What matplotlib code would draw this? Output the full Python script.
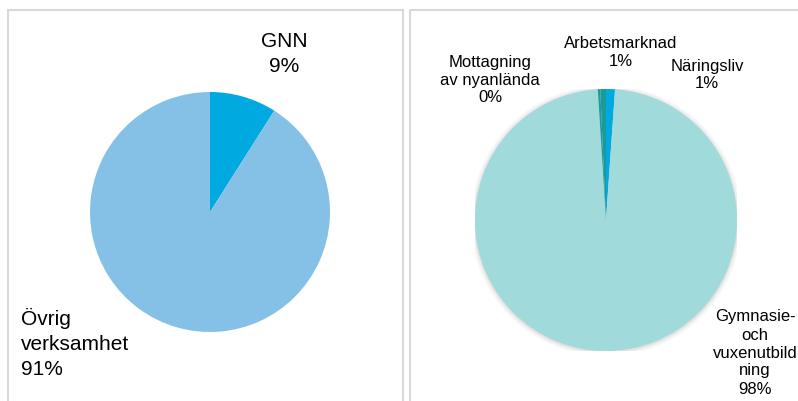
import matplotlib.pyplot as plt
from matplotlib.patches import Rectangle, Circle

plt.rcParams['font.family'] = ['Liberation Sans', 'DejaVu Sans']

W, H = 798, 401

# left chart
left_labels = ['GNN', 'Övrig\nverksamhet']
left_values = [9, 91]
left_colors = ['#00A9E0', '#85C1E6']

# right chart (clockwise from 12 o'clock)
right_labels = ['Näringsliv', 'Gymnasie-\noch\nvuxenutbild\nning',
                'Mottagning\nav nyanlända', 'Arbetsmarknad']
right_values = [1.1, 97.9, 0.3, 0.7]
right_colors = ['#00A9E0', '#A1DADA', '#1E9C9C', '#1A9A9A']


def fx(x):
    return x / W


def fy(y):
    return 1 - y / H


def pie_axes(fig, cx, cy, r):
    return fig.add_axes([fx(cx - r), fy(cy + r), 2 * r / W, 2 * r / H])


def pct(values):
    total = sum(values)
    return ['%d%%' % round(v * 100 / total) for v in values]


fig = plt.figure(figsize=(W / 100, H / 100), dpi=100)

# panel borders
for x0, x1 in [(8, 403), (410, 820)]:
    fig.patches.append(Rectangle((fx(x0), fy(420)), fx(x1) - fx(x0), fy(10) - fy(420),
                                 transform=fig.transFigure, fill=False,
                                 edgecolor='#D9D9D9', linewidth=1.5))

ax1 = pie_axes(fig, 210, 212, 120)
ax1.pie(left_values, colors=left_colors, startangle=90, counterclock=False,
        wedgeprops=dict(linewidth=0))
ax1.set_xlim(-1, 1)
ax1.set_ylim(-1, 1)
ax1.axis('off')

lp = pct(left_values)
fig.text(fx(284), fy(54), left_labels[0] + '\n' + lp[0], ha='center', va='center',
         fontsize=15, linespacing=1.4)
fig.text(fx(21), fy(343), left_labels[1] + '\n' + lp[1], ha='left', va='center',
         fontsize=15, linespacing=1.4)

ax2 = pie_axes(fig, 606, 220, 131)
for rr, a in [(1.035, 0.03), (1.02, 0.04), (1.008, 0.05)]:
    ax2.add_patch(Circle((0.0, -0.005), rr, color='black', alpha=a, linewidth=0))
ax2.pie(right_values, colors=right_colors, startangle=90, counterclock=False,
        wedgeprops=dict(linewidth=0))
ax2.set_xlim(-1, 1)
ax2.set_ylim(-1, 1)
ax2.axis('off')

rp = pct(right_values)
fs = 12
fig.text(fx(707), fy(75), right_labels[0] + '\n' + rp[0], ha='center', va='center',
         fontsize=fs, linespacing=1.25)
fig.text(fx(755), fy(353), right_labels[1] + '\n' + rp[1], ha='center', va='center',
         fontsize=fs, linespacing=1.25)
fig.text(fx(490), fy(80), right_labels[2] + '\n' + rp[2], ha='center', va='center',
         fontsize=fs, linespacing=1.25)
fig.text(fx(621), fy(52), right_labels[3] + '\n' + rp[3], ha='center', va='center',
         fontsize=fs, linespacing=1.25)

fig.savefig('out.png', dpi=100)
